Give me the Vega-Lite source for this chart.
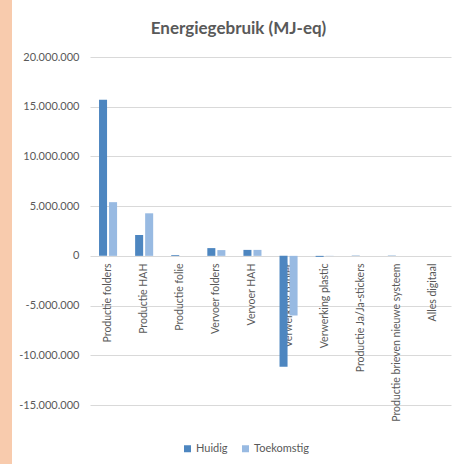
{
  "$schema": "https://vega.github.io/schema/vega-lite/v6.json",
  "autosize": {"type": "none"},
  "width": 361,
  "height": 348,
  "padding": {"left": 90, "top": 57, "right": 8, "bottom": 59},
  "background": "#F8CBAD",
  "title": {
    "text": "Energiegebruik (MJ-eq)",
    "font": "Lato",
    "fontSize": 17,
    "fontWeight": "bold",
    "color": "#595959",
    "anchor": "middle",
    "frame": "group",
    "dx": -32,
    "offset": 13
  },
  "data": {
    "values": [
      {"categorie": "Productie folders", "scenario": "Huidig", "waarde": 15700000},
      {"categorie": "Productie folders", "scenario": "Toekomstig", "waarde": 5400000},
      {"categorie": "Productie HAH", "scenario": "Huidig", "waarde": 2100000},
      {"categorie": "Productie HAH", "scenario": "Toekomstig", "waarde": 4280000},
      {"categorie": "Productie folie", "scenario": "Huidig", "waarde": 80000},
      {"categorie": "Productie folie", "scenario": "Toekomstig", "waarde": 0},
      {"categorie": "Vervoer folders", "scenario": "Huidig", "waarde": 780000},
      {"categorie": "Vervoer folders", "scenario": "Toekomstig", "waarde": 580000},
      {"categorie": "Vervoer HAH", "scenario": "Huidig", "waarde": 600000},
      {"categorie": "Vervoer HAH", "scenario": "Toekomstig", "waarde": 600000},
      {"categorie": "Verwerking papier", "scenario": "Huidig", "waarde": -11150000},
      {"categorie": "Verwerking papier", "scenario": "Toekomstig", "waarde": -6000000},
      {"categorie": "Verwerking plastic", "scenario": "Huidig", "waarde": -100000},
      {"categorie": "Verwerking plastic", "scenario": "Toekomstig", "waarde": -20000},
      {"categorie": "Productie Ja/Ja-stickers", "scenario": "Huidig", "waarde": 30000},
      {"categorie": "Productie Ja/Ja-stickers", "scenario": "Toekomstig", "waarde": 0},
      {"categorie": "Productie brieven nieuwe systeem", "scenario": "Huidig", "waarde": 30000},
      {"categorie": "Productie brieven nieuwe systeem", "scenario": "Toekomstig", "waarde": 0},
      {"categorie": "Alles digitaal", "scenario": "Huidig", "waarde": 0},
      {"categorie": "Alles digitaal", "scenario": "Toekomstig", "waarde": 0}
    ]
  },
  "mark": {"type": "bar"},
  "encoding": {
    "x": {
      "field": "categorie",
      "type": "nominal",
      "sort": null,
      "scale": {"paddingInner": 0.5, "paddingOuter": 0.25},
      "axis": {
        "title": null,
        "orient": "bottom",
        "offset": -149,
        "labelAngle": -90,
        "labelPadding": 7,
        "labelFont": "Lato",
        "labelFontSize": 10.5,
        "labelColor": "#595959",
        "labelLimit": 300,
        "domain": false,
        "ticks": false,
        "grid": false
      }
    },
    "xOffset": {
      "field": "scenario",
      "type": "nominal",
      "scale": {"paddingInner": 0.2, "paddingOuter": 0}
    },
    "y": {
      "field": "waarde",
      "type": "quantitative",
      "scale": {"domain": [-15000000, 20000000], "nice": false, "zero": true},
      "axis": {
        "title": null,
        "values": [-15000000, -10000000, -5000000, 0, 5000000, 10000000, 15000000, 20000000],
        "format": ",d",
        "labelFont": "Lato",
        "labelFontSize": 11,
        "labelColor": "#595959",
        "labelPadding": 11,
        "tickSize": 0,
        "ticks": false,
        "domain": false,
        "grid": true,
        "gridColor": "#D9D9D9",
        "gridWidth": 1
      }
    },
    "color": {
      "field": "scenario",
      "type": "nominal",
      "scale": {"domain": ["Huidig", "Toekomstig"], "range": ["#4D86C0", "#98BAE2"]},
      "legend": {
        "title": null,
        "orient": "none",
        "direction": "horizontal",
        "legendX": 92,
        "legendY": 386,
        "symbolType": "square",
        "symbolSize": 49,
        "symbolStrokeWidth": 0,
        "labelFont": "Lato",
        "labelFontSize": 11,
        "labelColor": "#595959",
        "labelOffset": 3,
        "columnPadding": 12,
        "padding": 0
      }
    }
  },
  "config": {
    "locale": {
      "number": {"decimal": ",", "thousands": ".", "grouping": [3], "currency": ["€", ""], "minus": "-"}
    },
    "view": {"fill": "white", "stroke": "white", "strokeWidth": 156}
  }
}
